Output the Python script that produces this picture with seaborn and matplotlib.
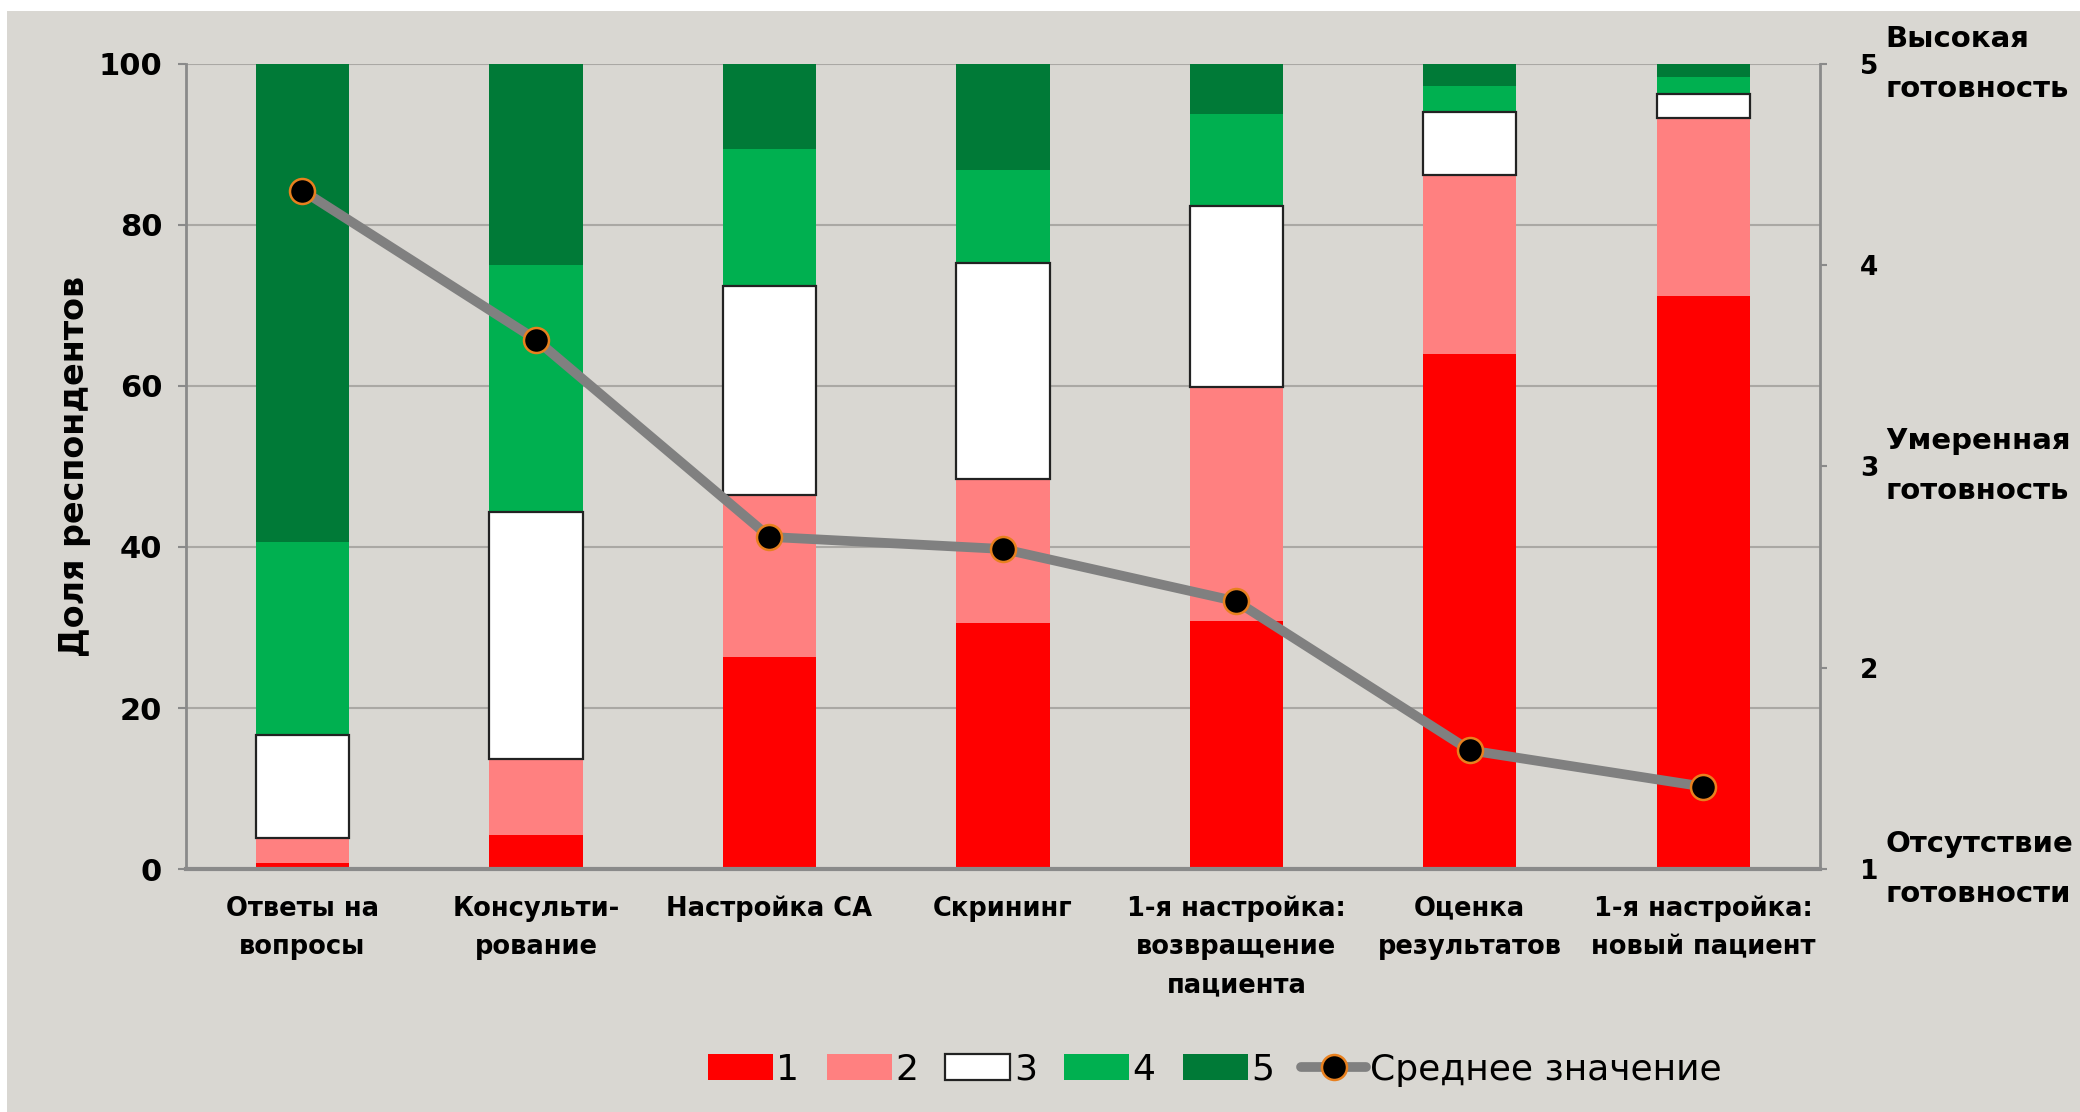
import matplotlib
matplotlib.use("Agg")
import matplotlib.pyplot as plt
import matplotlib.transforms as mtransforms
from matplotlib.patches import Patch, Rectangle
from matplotlib.lines import Line2D
import numpy as np
import pandas as pd
import seaborn as sns

# data (percent of respondents per readiness level)
categories = ["Ответы на\nвопросы", "Консульти-\nрование", "Настройка СА", "Скрининг",
              "1-я настройка:\nвозвращение\nпациента", "Оценка\nрезультатов",
              "1-я настройка:\nновый пациент"]
level_1 = [0.8, 4.3, 26.3, 30.5, 30.8, 63.9, 71.2]
level_2 = [3.1, 9.4, 20.2, 17.9, 29.0, 22.3, 22.0]
level_3 = [12.8, 30.6, 25.9, 26.9, 22.5, 7.8, 3.0]
level_4 = [23.9, 30.7, 17.0, 11.5, 11.5, 3.2, 2.2]
level_5 = [59.4, 25.0, 10.6, 13.2, 6.2, 2.8, 1.6]
mean_score = [4.37, 3.63, 2.65, 2.59, 2.33, 1.59, 1.41]

level_names = ["1", "2", "3", "4", "5"]
level_colors = ["#ff0000", "#ff8080", "#ffffff", "#00b050", "#007a37"]
right_notes = {5: "Высокая\nготовность", 3: "Умеренная\nготовность", 1: "Отсутствие\nготовности"}

BG = "#d9d7d2"
GRID = "#aaa8a4"
SPINE = "#8a8a8a"

sns.set_theme(style="white")
plt.rcParams["font.family"] = ["DejaVu Sans"]
plt.rcParams["text.color"] = "black"
plt.rcParams["xtick.color"] = "black"
plt.rcParams["ytick.color"] = "black"
plt.rcParams["axes.labelcolor"] = "black"

fig = plt.figure(figsize=(20.8, 11.12), dpi=100, facecolor="white")
fig.patches.append(Rectangle((7 / 2080, 0), 1, 1 - 11 / 1112, transform=fig.transFigure,
                             facecolor=BG, edgecolor="none", zorder=-10))
ax = fig.add_axes([0.0893, 0.2184, 0.875 - 0.0893, 0.9427 - 0.2184])
ax.set_facecolor("none")

df = pd.DataFrame({"cat": categories, "1": level_1, "2": level_2, "3": level_3,
                   "4": level_4, "5": level_5})
x = np.arange(len(categories))
bottom = np.zeros(len(categories))
for name, col in zip(level_names, level_colors):
    vals = df[name].to_numpy()
    if name == "3":
        ax.bar(x, vals, bottom=bottom, width=0.4, color=col, edgecolor="#222222",
               linewidth=1.6, zorder=3)
    else:
        ax.bar(x, vals, bottom=bottom, width=0.4, color=col, edgecolor="none", zorder=2)
    bottom += vals

ax.set_xlim(-0.5, len(categories) - 0.5)
ax.set_ylim(0, 100)
ax.set_yticks([0, 20, 40, 60, 80, 100])
ax.yaxis.grid(True, color=GRID, linewidth=1.5)
ax.set_axisbelow(True)
for side in ["top", "right"]:
    ax.spines[side].set_visible(False)
ax.spines["left"].set_color(SPINE)
ax.spines["left"].set_linewidth(2)
ax.spines["bottom"].set_color(SPINE)
ax.spines["bottom"].set_linewidth(3)

ax.set_xticks(x)
ax.set_xticklabels(categories, fontsize=18.5, fontweight="bold", linespacing=1.6, va="top")
ax.set_xticks(np.arange(-0.5, len(categories), 1.0), minor=True)
ax.tick_params(axis="x", which="major", length=0, pad=19)
ax.tick_params(axis="x", which="minor", length=10, width=2, color=SPINE, direction="out")
ax.tick_params(axis="y", length=6, width=1.5, color=SPINE, direction="out", pad=11,
               labelsize=22, left=True)
for lab in ax.get_yticklabels():
    lab.set_fontweight("bold")
ax.set_ylabel("Доля респондентов", fontsize=24, fontweight="bold")
ax.yaxis.set_label_coords(-0.058, 0.5)

# mean score on the right axis
ax2 = ax.twinx()
sns.lineplot(x=x, y=mean_score, ax=ax2, color="#808080", linewidth=7, zorder=5,
             marker="o", markersize=18, markerfacecolor="black",
             markeredgecolor="#e8801e", markeredgewidth=1.8)
ax2.set_ylim(1, 5)
ax2.set_yticks([1, 2, 3, 4, 5])
ax2.set_xlim(-0.5, len(categories) - 0.5)
for side in ["top", "left", "bottom"]:
    ax2.spines[side].set_visible(False)
ax2.spines["right"].set_color(SPINE)
ax2.spines["right"].set_linewidth(2)
ax2.tick_params(axis="y", right=True, length=5, width=1.5, color=SPINE, direction="out",
                pad=24, labelsize=19)
for lab in ax2.get_yticklabels():
    lab.set_fontweight("bold")
ax2.grid(False)

trans = mtransforms.blended_transform_factory(fig.transFigure, ax2.transData)
for level, note in right_notes.items():
    ax2.text(0.9065, level, note, transform=trans, ha="left", va="center",
             fontsize=21, fontweight="bold", linespacing=2.0)

handles = [Patch(facecolor=c, edgecolor="#222222" if n == "3" else "none",
                 linewidth=1.6) for n, c in zip(level_names, level_colors)]
handles.append(Line2D([0], [0], color="#808080", linewidth=7, marker="o", markersize=18,
                      markerfacecolor="black", markeredgecolor="#e8801e",
                      markeredgewidth=1.8))
fig.legend(handles, level_names + ["Среднее значение"], loc="center",
           bbox_to_anchor=(0.584, 0.038), ncol=6, frameon=False, fontsize=26,
           handlelength=1.8, handleheight=0.75, handletextpad=0.1, columnspacing=0.75)

fig.savefig("out.png", dpi=100, facecolor=fig.get_facecolor())
